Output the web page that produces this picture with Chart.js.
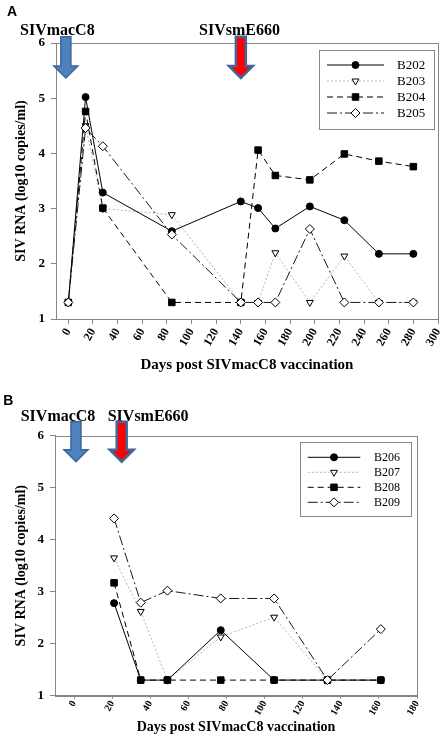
<!DOCTYPE html>
<html>
<head>
<meta charset="utf-8">
<script src="https://cdn.jsdelivr.net/npm/chart.js@4.4.1/dist/chart.umd.min.js"></script>
<style>
  html, body { margin: 0; padding: 0; background: #fff; }
  .panel { position: absolute; left: 0; width: 444px; }
  #panelA { top: 0; height: 375px; }
  #panelB { top: 375px; height: 367px; }
</style>
</head>
<body>
<div class="panel" id="panelA"><canvas id="chartA"></canvas></div>
<div class="panel" id="panelB"><canvas id="chartB"></canvas></div>
<script>
// ---- Data: panel A (days post SIVmacC8, log10 copies/ml) ----
const DAYS_A = [0, 14, 28, 84, 140, 154, 168, 196, 224, 252, 280];
const B202 = [1.3, 5.02, 3.29, 2.59, 3.13, 3.01, 2.64, 3.04, 2.79, 2.18, 2.18];
const B203 = [1.3, 4.5, 3.0, 2.89, 1.3, 1.3, 2.2, 1.3, 2.14, 1.3, 1.3];
const B204 = [1.3, 4.76, 3.01, 1.3, 1.3, 4.06, 3.6, 3.52, 3.99, 3.86, 3.76];
const B205 = [1.3, 4.46, 4.13, 2.53, 1.3, 1.3, 1.3, 2.63, 1.3, 1.3, 1.3];
const NAMES_A = ["B202", "B203", "B204", "B205"];
const TICKS_A = [0, 20, 40, 60, 80, 100, 120, 140, 160, 180, 200, 220, 240, 260, 280, 300];

// ---- Data: panel B ----
const DAYS_B = [21, 35, 49, 77, 105, 133, 161];
const B206 = [2.78, 1.3, 1.3, 2.26, 1.3, 1.3, 1.3];
const B207 = [3.65, 2.62, 1.3, 2.13, 2.51, 1.3, 1.3];
const B208 = [3.17, 1.3, 1.3, 1.3, 1.3, 1.3, 1.3];
const B209 = [4.41, 2.79, 3.02, 2.87, 2.87, 1.3, 2.28];
const NAMES_B = ["B206", "B207", "B208", "B209"];
const TICKS_B = [0, 20, 40, 60, 80, 100, 120, 140, 160, 180];

const Y_TICKS = [1, 2, 3, 4, 5, 6];

// inoculations (virus, day)
const VIRUSES = ["SIVmacC8", "SIVsmE660"];
const INOC_DAYS_A = [-2, 140];
const INOC_DAYS_B = [1, 25];

// ---- Styles ----
const SERIF = "'Liberation Serif', 'Times New Roman', serif";
const GREY = "#868686";
const SERIES_STYLE = [
  { borderColor: "#000", borderDash: [], pointStyle: "circle", pointRadius: 3.5, pointRotation: 0, pointBackgroundColor: "#000", order: 2 },
  { borderColor: "#b4b4b4", borderDash: [2, 2], pointStyle: "triangle", pointRadius: 4, pointRotation: 180, pointBackgroundColor: "#fff", order: 3 },
  { borderColor: "#000", borderDash: [6, 4], pointStyle: "rect", pointRadius: 4.6, pointRotation: 0, pointBackgroundColor: "#000", order: 1 },
  { borderColor: "#1a1a1a", borderDash: [10, 3, 2, 3], pointStyle: "rectRot", pointRadius: 4.5, pointRotation: 0, pointBackgroundColor: "#fff", order: 0 },
];

function makeDatasets(days, series, names) {
  return series.map((vals, i) => Object.assign({
    label: names[i],
    data: vals.map((v, k) => ({ x: days[k], y: v })),
    borderWidth: 1,
    pointBorderColor: "#000",
    pointBorderWidth: 1,
    tension: 0,
  }, SERIES_STYLE[i]));
}

// simple marker for the hand-drawn legend
function drawMarker(ctx, s, x, y) {
  const r = s.pointRadius;
  ctx.beginPath();
  if (s.pointStyle === "circle") {
    ctx.arc(x, y, r, 0, Math.PI * 2);
  } else if (s.pointStyle === "rect") {
    const h = r * Math.SQRT1_2;
    ctx.rect(x - h, y - h, 2 * h, 2 * h);
  } else if (s.pointStyle === "rectRot") {
    ctx.moveTo(x, y - r); ctx.lineTo(x + r, y); ctx.lineTo(x, y + r); ctx.lineTo(x - r, y);
    ctx.closePath();
  } else if (s.pointStyle === "triangle") {
    const a = Math.PI / 180 * s.pointRotation;
    for (let k = 0; k < 3; k++) {
      const t = a + k * 2 * Math.PI / 3;
      const px = x + Math.sin(t) * r, py = y - Math.cos(t) * r;
      k ? ctx.lineTo(px, py) : ctx.moveTo(px, py);
    }
    ctx.closePath();
  }
  ctx.fillStyle = s.pointBackgroundColor;
  ctx.fill();
  ctx.strokeStyle = "#000";
  ctx.lineWidth = 1;
  ctx.setLineDash([]);
  ctx.stroke();
}

function drawArrow(ctx, x, yTop, yTip, fill, stroke, lw) {
  const sw = 5, hw = 12, hl = 12;
  ctx.beginPath();
  ctx.moveTo(x - sw, yTop);
  ctx.lineTo(x + sw, yTop);
  ctx.lineTo(x + sw, yTip - hl);
  ctx.lineTo(x + hw, yTip - hl);
  ctx.lineTo(x, yTip);
  ctx.lineTo(x - hw, yTip - hl);
  ctx.lineTo(x - sw, yTip - hl);
  ctx.closePath();
  ctx.fillStyle = fill;
  ctx.fill();
  ctx.lineWidth = lw;
  ctx.lineJoin = "miter";
  ctx.strokeStyle = stroke;
  ctx.stroke();
}

// frame, arrows, virus labels, legend
const panelDecor = {
  id: "panelDecor",
  beforeDatasetsDraw(chart) {
    const { ctx, chartArea: a } = chart;
    ctx.save();
    ctx.strokeStyle = GREY;
    ctx.lineWidth = 1;
    ctx.strokeRect(Math.round(a.left) + 0.5, Math.round(a.top) + 0.5,
                   Math.round(a.right - a.left), Math.round(a.bottom - a.top));
    ctx.restore();
  },
  afterDraw(chart, args, o) {
    const { ctx } = chart;
    const xs = chart.scales.x;
    ctx.save();
    // panel letter
    ctx.fillStyle = "#000";
    ctx.textBaseline = "alphabetic";
    ctx.font = "bold 14px 'Liberation Sans', Arial, sans-serif";
    ctx.fillText(o.letter, o.letterX, o.letterY);
    // virus labels
    ctx.font = "bold 16px " + SERIF;
    o.virusX.forEach((x, i) => ctx.fillText(VIRUSES[i], x, o.virusY));
    // arrows
    o.inocDays.forEach((d, i) => {
      const x = xs.getPixelForValue(d);
      if (i === 0) drawArrow(ctx, x, o.arrowTop, o.arrowTip, "#4f81bd", "#3b6698", 1.5);
      else drawArrow(ctx, x, o.arrowTop, o.arrowTip, "#ff0000", "#41679a", 2.5);
    });
    // legend
    const L = o.legend;
    ctx.fillStyle = "#fff";
    ctx.fillRect(L.x, L.y, L.w, L.h);
    ctx.strokeStyle = GREY;
    ctx.lineWidth = 1;
    ctx.strokeRect(Math.round(L.x) + 0.5, Math.round(L.y) + 0.5, Math.round(L.w), Math.round(L.h));
    chart.data.datasets.forEach((ds, i) => {
      const y = L.row0 + i * L.gap;
      ctx.beginPath();
      ctx.setLineDash(ds.borderDash);
      ctx.strokeStyle = ds.borderColor;
      ctx.lineWidth = 1;
      ctx.moveTo(L.x1, y);
      ctx.lineTo(L.x2, y);
      ctx.stroke();
      drawMarker(ctx, ds, (L.x1 + L.x2) / 2, y);
      ctx.fillStyle = "#000";
      ctx.font = L.font + "px " + SERIF;
      ctx.textBaseline = "middle";
      ctx.fillText(ds.label, L.textX, y + 0.5);
    });
    ctx.restore();
  }
};

function makeChart(id, cfg) {
  return new Chart(document.getElementById(id), {
    type: "line",
    data: { datasets: makeDatasets(cfg.days, cfg.series, cfg.names) },
    plugins: [panelDecor],
    options: {
      responsive: true,
      maintainAspectRatio: false,
      animation: false,
      layout: { padding: cfg.padding },
      plugins: {
        legend: { display: false },
        tooltip: { enabled: false },
        panelDecor: cfg.decor,
      },
      scales: {
        x: {
          type: "linear",
          min: -10,
          max: cfg.xMax,
          afterBuildTicks: (s) => { s.ticks = cfg.ticks.map(v => ({ value: v })); },
          afterFit: (s) => { s.height = cfg.xHeight; s.paddingLeft = 0; s.paddingRight = 0; },
          ticks: {
            autoSkip: false, minRotation: 60, maxRotation: 60, padding: cfg.xTickPad,
            color: "#000", font: { family: SERIF, size: cfg.xTickSize, weight: "bold" },
          },
          grid: { drawOnChartArea: false, tickLength: cfg.xTickLen, color: GREY },
          border: { color: GREY },
          title: {
            display: true, text: "Days post SIVmacC8 vaccination", color: "#000",
            font: { family: SERIF, size: cfg.xTitleSize, weight: "bold" },
            padding: { top: 0, bottom: cfg.xTitlePad },
          },
        },
        y: {
          min: 1,
          max: 6,
          afterBuildTicks: (s) => { s.ticks = Y_TICKS.map(v => ({ value: v })); },
          afterFit: (s) => { s.width = cfg.yWidth; s.paddingTop = 0; s.paddingBottom = 0; },
          ticks: { padding: 6, color: "#000", font: { family: SERIF, size: 13, weight: "bold" } },
          grid: { drawOnChartArea: false, tickLength: 5, color: GREY },
          border: { color: GREY },
          title: {
            display: true, text: "SIV RNA (log10 copies/ml)", color: "#000",
            font: { family: SERIF, size: 14, weight: "bold" },
            padding: { top: 12.5, bottom: 0 },
          },
        },
      },
    },
  });
}

document.addEventListener("DOMContentLoaded", () => {
  makeChart("chartA", {
    days: DAYS_A, series: [B202, B203, B204, B205], names: NAMES_A,
    ticks: TICKS_A, xMax: 300,
    padding: { top: 43, right: 6, bottom: 0, left: 0 },
    xHeight: 56, yWidth: 56, xTickSize: 12, xTickPad: 2, xTickLen: 5, xTitleSize: 15, xTitlePad: 1,
    decor: {
      letter: "A", letterX: 7, letterY: 15.5,
      virusX: [20, 199], virusY: 34.5,
      inocDays: INOC_DAYS_A, arrowTop: 36.7, arrowTip: 78,
      legend: { x: 318.7, y: 50, w: 115.3, h: 79, row0: 65, gap: 16, x1: 327, x2: 384, textX: 397, font: 13 },
    },
  });

  makeChart("chartB", {
    days: DAYS_B, series: [B206, B207, B208, B209], names: NAMES_B,
    ticks: TICKS_B, xMax: 180,
    padding: { top: 60.7, right: 27, bottom: 0, left: 0 },
    xHeight: 46.3, yWidth: 55, xTickSize: 10, xTickPad: 0, xTickLen: 3, xTitleSize: 14, xTitlePad: 6,
    decor: {
      letter: "B", letterX: 3.3, letterY: 30,
      virusX: [20.7, 107.7], virusY: 46,
      inocDays: INOC_DAYS_B, arrowTop: 46.7, arrowTip: 86.7,
      legend: { x: 300.3, y: 67.3, w: 111, h: 74.4, row0: 82.3, gap: 15, x1: 307.7, x2: 360.3, textX: 374, font: 12 },
    },
  });
});
</script>
</body>
</html>
